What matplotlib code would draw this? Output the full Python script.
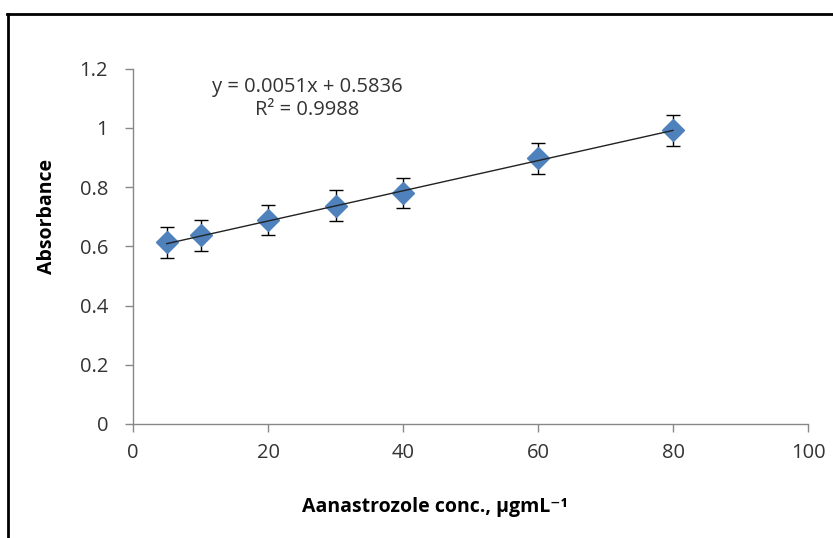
import numpy as np
import matplotlib.pyplot as plt
from matplotlib.lines import Line2D

plt.rcParams['font.family'] = ['Open Sans', 'DejaVu Sans']

# calibration data
conc = [5, 10, 20, 30, 40, 60, 80]
absorbance = [0.614, 0.637, 0.689, 0.737, 0.780, 0.898, 0.992]
abs_err = [0.052, 0.052, 0.052, 0.052, 0.052, 0.052, 0.052]

# trendline from the chart
slope = 0.0051
intercept = 0.5836
r2 = 0.9988

x_ticks = [0, 20, 40, 60, 80, 100]
y_ticks = [0, 0.2, 0.4, 0.6, 0.8, 1, 1.2]
y_tick_labels = ['0', '0.2', '0.4', '0.6', '0.8', '1', '1.2']

fig = plt.figure(figsize=(8.33, 5.38), dpi=100)
ax = fig.add_axes([0.1597, 0.2119, 0.8103, 0.6604])

ax.errorbar(conc, absorbance, yerr=abs_err, fmt='none', ecolor='black',
            elinewidth=1.0, capsize=4.7, capthick=1.0, zorder=2)
ax.plot(conc, absorbance, linestyle='none', marker='D', markersize=11,
        color='#4F81BD', markeredgecolor='#4F81BD', zorder=3)

xf = np.array([min(conc), max(conc)])
ax.plot(xf, slope * xf + intercept, color='#222222', linewidth=1.0, zorder=4)

ax.text(0.258, 0.915, f'y = {slope}x + {intercept}\nR² = {r2}', transform=ax.transAxes,
        ha='center', va='center', fontsize=14.5, color='#333333', linespacing=1.2)

ax.set_xlim(0, 100)
ax.set_ylim(0, 1.2)
ax.set_xticks(x_ticks)
ax.set_yticks(y_ticks)
ax.set_yticklabels(y_tick_labels)
ax.tick_params(axis='both', direction='out', length=6, width=1, color='#888888',
               labelsize=14.5, labelcolor='#333333')
ax.tick_params(axis='y', pad=12)
ax.tick_params(axis='x', pad=8)

for s in ['top', 'right']:
    ax.spines[s].set_visible(False)
for s in ['left', 'bottom']:
    ax.spines[s].set_color('#888888')
    ax.spines[s].set_linewidth(1)

ax.set_xlabel('Aanastrozole conc., µgmL⁻¹', fontsize=14, fontweight='bold')
ax.set_ylabel('Absorbance', fontsize=14, fontweight='bold')
ax.xaxis.set_label_coords(0.447, -0.205)
ax.yaxis.set_label_coords(-0.112, 0.585)

# outer chart border (top and left edges visible)
fig.add_artist(Line2D([0.0085, 1.0], [0.974, 0.974], transform=fig.transFigure,
                      color='black', linewidth=2))
fig.add_artist(Line2D([0.0098, 0.0098], [0.0, 0.974], transform=fig.transFigure,
                      color='black', linewidth=2))

fig.savefig('out.png', dpi=100)
